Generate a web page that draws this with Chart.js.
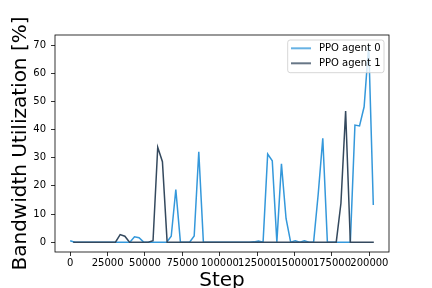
<!DOCTYPE html>
<html><head><meta charset="utf-8">
<script src="https://cdn.jsdelivr.net/npm/chart.js@4"></script>
<style>html,body{margin:0;padding:0;background:#fff}canvas{display:block}</style>
</head><body>
<canvas id="c" width="432" height="288"></canvas>
<script>
// ---- data ----
const seriesNames = ['PPO agent 0', 'PPO agent 1'];
const agent0Steps = [0, 3070, 6140, 9210, 12280, 15350, 18420, 21490, 24560, 27630, 30700, 33770, 36840, 39910, 42980, 46050, 49120, 52190, 55260, 58330, 61400, 64470, 67540, 70610, 73680, 76750, 79820, 82890, 85960, 89030, 92100, 95170, 98240, 101310, 104380, 107450, 110520, 113590, 116660, 119730, 122800, 125870, 128940, 132010, 135080, 138150, 141220, 144290, 147360, 150430, 153500, 156570, 159640, 162710, 165780, 168850, 171920, 174990, 178060, 181130, 184200, 187270, 190340, 193410, 196480, 199550, 202620];
const agent0Util = [0.5, 0, 0, 0, 0, 0, 0, 0, 0, 0, 0, 0, 0, 0, 1.9, 1.6, 0, 0, 0, 0, 0, 0, 2.1, 18.7, 0, 0, 0, 2.2, 32.1, 0, 0, 0, 0, 0, 0, 0, 0, 0, 0, 0, 0.1, 0.4, 0, 31.3, 28.9, 0, 27.8, 8.4, 0, 0.5, 0, 0.5, 0, 0, 17, 36.9, 0, 0, 0, 0, 0, 0, 41.6, 41.3, 48.1, 70.1, 13.2];
const agent1Steps = [2000, 5140, 8280, 11420, 14560, 17700, 20840, 23980, 27120, 30260, 33400, 36540, 39680, 42820, 45960, 49100, 52240, 55380, 58520, 61660, 64800, 67940, 71080, 74220, 77360, 80500, 83640, 86780, 89920, 93060, 96200, 99340, 102480, 105620, 108760, 111900, 115040, 118180, 121320, 124460, 127600, 130740, 133880, 137020, 140160, 143300, 146440, 149580, 152720, 155860, 159000, 162140, 165280, 168420, 171560, 174700, 177840, 180980, 184120, 187260, 190400, 193540, 196680, 199820, 202960];
const agent1Util = [0, 0, 0, 0, 0, 0, 0, 0, 0, 0, 2.7, 2.1, 0, 0, 0, 0, 0, 0.5, 33.7, 28.6, 0, 0, 0, 0, 0, 0, 0, 0, 0, 0, 0, 0, 0, 0, 0, 0, 0, 0, 0, 0, 0, 0, 0, 0, 0, 0, 0, 0, 0, 0, 0, 0, 0, 0, 0, 0, 0, 13.8, 46.6, 0, 0, 0, 0, 0, 0];
const xTicks = [0, 25000, 50000, 75000, 100000, 125000, 150000, 175000, 200000];
const yTicks = [0, 10, 20, 30, 40, 50, 60, 70];
const xTitle = 'Step';
const yTitle = 'Bandwidth Utilization [%]';
const colors = ['#3498db', '#34495e'];

const FONT = "'DejaVu Sans', sans-serif";
Chart.defaults.font.family = FONT;
Chart.defaults.color = '#000';

function legendLine(color) {
  const c = document.createElement('canvas');
  c.width = 23; c.height = 4;
  const g = c.getContext('2d');
  g.strokeStyle = color; g.lineWidth = 1.5;
  g.beginPath(); g.moveTo(0, 2); g.lineTo(20, 2); g.stroke();
  return c;
}

const boxPlugin = {
  id: 'boxAndLegend',
  beforeLayout(chart) {
    const lg = chart.legend;
    if (lg && !lg._patched) {
      lg._patched = true;
      lg._layers = () => [{ z: 10, draw: () => {
        const ctx = chart.ctx;
        ctx.save();
        ctx.beginPath();
        ctx.roundRect(287.7, 40, 96.3, 32.7, 2.5);
        ctx.fillStyle = 'rgba(255,255,255,0.8)';
        ctx.fill();
        ctx.lineWidth = 0.8;
        ctx.strokeStyle = '#cccccc';
        ctx.stroke();
        ctx.restore();
        lg.draw();
      }}];
    }
  },
  afterLayout(chart) {
    const lg = chart.legend;
    lg.left = 286; lg.top = 38.3; lg.right = 392; lg.bottom = 82;
    lg.width = lg.right - lg.left; lg.height = lg.bottom - lg.top;
  },
  afterDatasetsDraw(chart) {
    const { ctx, chartArea: a } = chart;
    ctx.save();
    ctx.strokeStyle = '#000';
    ctx.lineWidth = 0.8;
    ctx.strokeRect(a.left, a.top, a.right - a.left, a.bottom - a.top);
    ctx.restore();
  }
};

new Chart(document.getElementById('c'), {
  type: 'line',
  data: {
    datasets: [
      { label: seriesNames[0], data: agent0Steps.map((x, i) => ({ x, y: agent0Util[i] })),
        borderColor: colors[0], backgroundColor: colors[0], borderWidth: 1.5, pointRadius: 0,
        pointStyle: legendLine(colors[0]), tension: 0, order: 2, fill: false },
      { label: seriesNames[1], data: agent1Steps.map((x, i) => ({ x, y: agent1Util[i] })),
        borderColor: colors[1], backgroundColor: colors[1], borderWidth: 1.5, pointRadius: 0,
        pointStyle: legendLine(colors[1]), tension: 0, order: 1, fill: false }
    ]
  },
  options: {
    responsive: false, animation: false, devicePixelRatio: 1,
    layout: { padding: { top: 35, right: 43, left: 0, bottom: 0 } },
    scales: {
      x: {
        type: 'linear', min: -10150, max: 213110,
        afterBuildTicks: s => { s.ticks = xTicks.map(v => ({ value: v })); },
        afterFit: s => { s.height = 36; },
        ticks: { font: { size: 10 }, color: '#000', padding: 1.5, maxRotation: 0, autoSkip: false, callback: v => String(v) },
        grid: { display: true, drawOnChartArea: false, drawTicks: true, tickLength: 4, color: '#000', lineWidth: 0.8 },
        border: { display: false },
        title: { display: true, text: xTitle, color: '#000', font: { size: 20, lineHeight: 1 }, padding: { top: 0, bottom: -3 } }
      },
      y: {
        type: 'linear', min: -3.5, max: 73.6,
        afterBuildTicks: s => { s.ticks = yTicks.map(v => ({ value: v })); },
        afterFit: s => { s.width = 55; },
        ticks: { font: { size: 10 }, color: '#000', padding: 5, autoSkip: false, callback: v => String(v) },
        grid: { display: true, drawOnChartArea: false, drawTicks: true, tickLength: 4, color: '#000', lineWidth: 0.8 },
        border: { display: false },
        title: { display: true, text: yTitle, color: '#000', font: { size: 20, lineHeight: 1 }, padding: { top: 11, bottom: 0 } }
      }
    },
    plugins: {
      legend: {
        position: 'chartArea', align: 'start',
        labels: { usePointStyle: true, pointStyleWidth: 23, padding: 5, color: '#000', font: { size: 10 },
          sort: (a, b) => a.datasetIndex - b.datasetIndex }
      },
      tooltip: { enabled: false }
    }
  },
  plugins: [boxPlugin]
});
</script>
</body></html>
